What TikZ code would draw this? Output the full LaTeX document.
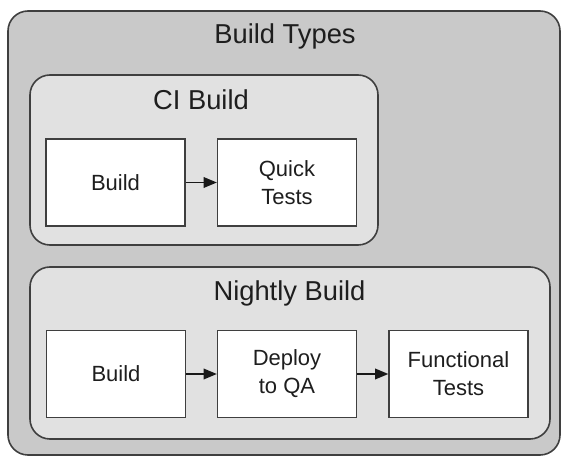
\documentclass[tikz,border=0pt]{standalone}
\usepackage{fontspec}
\setmainfont{Liberation Sans}
\usetikzlibrary{arrows.meta}
\definecolor{outerfill}{HTML}{C9C9C9}
\definecolor{innerfill}{HTML}{E1E1E1}
\definecolor{edgecol}{HTML}{3F3F3F}
\definecolor{txtcol}{HTML}{1E1E1E}
\begin{document}
\begin{tikzpicture}[x=0.75pt,y=-0.75pt,
  groupbox/.style={draw=edgecol,line width=1.2pt,rounded corners=15pt,inner sep=0pt},
  outerbox/.style={groupbox,fill=outerfill},
  innerbox/.style={groupbox,fill=innerfill},
  stepbox/.style={draw=edgecol,line width=1.2pt,fill=white,inner sep=0pt,
    minimum width=104pt,minimum height=65pt,align=center,text=txtcol,
    font=\fontsize{16.5}{21}\selectfont},
  titletext/.style={anchor=base,text=txtcol,font=\fontsize{20.5}{24}\selectfont,inner sep=0pt},
  flow/.style={draw=black!90,line width=1.2pt,-{Triangle[length=10pt,width=8pt]}}]
\useasboundingbox (0,0) rectangle (562,456);
% outer group
\node[outerbox,minimum width=414pt,minimum height=333pt] (outer) at (284,233) {};
\node[titletext] (outertitle) at (285,44) {Build Types};
% CI build group
\node[innerbox,minimum width=261pt,minimum height=127.5pt] (ci) at (204,160) {};
\node[titletext] (cititle) at (201,110) {CI Build};
\node[stepbox] (cibuild) at (115.5,182.5) {Build};
\node[stepbox] (ciquick) at (287,182.5) {Quick\\Tests};
% Nightly build group
\node[innerbox,minimum width=390pt,minimum height=129pt] (nightly) at (290,353) {};
\node[titletext] (nighttitle) at (289.5,301) {Nightly Build};
\node[stepbox] (nbuild) at (116,374) {Build};
\node[stepbox] (ndeploy) at (287,374) {Deploy\\to QA};
\node[stepbox] (nfunc) at (458.5,374) {Functional\\Tests};
% connectors
\draw[flow] (cibuild) -- (ciquick);
\draw[flow] (nbuild) -- (ndeploy);
\draw[flow] (ndeploy) -- (nfunc);
\end{tikzpicture}
\end{document}
